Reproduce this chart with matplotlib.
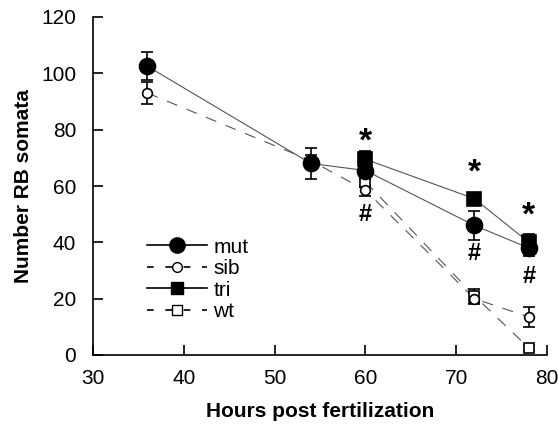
import matplotlib
matplotlib.use("Agg")
from matplotlib import pyplot as plt
from matplotlib.lines import Line2D
import numpy as np

plt.rcParams['font.family'] = ['Liberation Sans', 'DejaVu Sans']

# data
mut_x = [36, 54, 60, 72, 78]
mut_y = [102.5, 68.0, 65.5, 46.0, 38.0]
mut_err = [5.0, 5.5, 3.0, 5.0, 3.0]

sib_x = [36, 54, 60, 72, 78]
sib_y = [93.0, 69.0, 58.5, 20.0, 13.5]
sib_err = [4.0, 2.0, 2.0, 2.0, 3.5]

tri_x = [60, 72, 78]
tri_y = [69.5, 55.5, 40.0]
tri_err = [3.0, 2.0, 3.0]

wt_x = [60, 72, 78]
wt_y = [61.5, 21.0, 2.5]
wt_err = [2.0, 2.5, 1.0]

star_x = [60, 72, 78]
star_y = [75.5, 64.5, 49.5]
hash_x = [60, 72, 78]
hash_y = [50.0, 36.0, 28.0]

dpi = 100
fig = plt.figure(figsize=(558 / dpi, 425 / dpi), dpi=dpi)
ax = fig.add_axes([93 / 558, 70 / 425, 454 / 558, 338 / 425])

line_col = '#555555'
dash = (0, (10, 9))

def series(x, y, err, marker, ms, fc, ls):
    ax.plot(x, y, color=line_col, lw=0.8, linestyle=ls, zorder=2)
    ax.errorbar(x, y, yerr=err, fmt='none', ecolor='black', elinewidth=1.2,
                capsize=4, capthick=1.2, zorder=3)
    ax.plot(x, y, linestyle='none', marker=marker, ms=ms, mfc=fc,
            mec='black', mew=1.2, zorder=4)

series(wt_x, wt_y, wt_err, 's', 7, 'white', dash)
series(sib_x, sib_y, sib_err, 'o', 7, 'white', dash)
series(tri_x, tri_y, tri_err, 's', 9.5, 'black', '-')
series(mut_x, mut_y, mut_err, 'o', 11.5, 'black', '-')

for x, y in zip(star_x, star_y):
    ax.text(x, y, '*', ha='center', va='center', fontsize=24, fontweight='bold')
for x, y in zip(hash_x, hash_y):
    ax.text(x, y, '#', ha='center', va='center', fontsize=17, fontweight='bold')

handles = [
    Line2D([], [], color='black', lw=1.2, marker='o', ms=11, mfc='black', mec='black'),
    Line2D([], [], color='black', lw=1.2, ls=(0, (4, 7)), marker='o', ms=7, mfc='white', mec='black'),
    Line2D([], [], color='black', lw=1.2, marker='s', ms=9, mfc='black', mec='black'),
    Line2D([], [], color='black', lw=1.2, ls=(0, (4, 7)), marker='s', ms=7, mfc='white', mec='black'),
]
ax.legend(handles, ['mut', 'sib', 'tri', 'wt'], loc='upper left',
          bbox_to_anchor=(0.095, 0.378), frameon=False, fontsize=15,
          handlelength=2.9, handletextpad=0.3, labelspacing=0.12,
          borderpad=0)

ax.set_xlim(30, 80)
ax.set_ylim(0, 120)
ax.set_xticks([30, 40, 50, 60, 70, 80])
ax.set_yticks([0, 20, 40, 60, 80, 100, 120])
ax.spines['top'].set_visible(False)
ax.spines['right'].set_visible(False)
ax.spines['left'].set_linewidth(1.2)
ax.spines['bottom'].set_linewidth(1.2)
ax.tick_params(direction='in', length=7, width=1.2, labelsize=15)
ax.tick_params(axis='y', pad=12)
ax.tick_params(axis='x', pad=10)
ax.set_xlabel('Hours post fertilization', fontsize=15, fontweight='bold', labelpad=10)
ax.set_ylabel('Number RB somata', fontsize=15, fontweight='bold', labelpad=6)

plt.savefig('out.png', dpi=dpi)
